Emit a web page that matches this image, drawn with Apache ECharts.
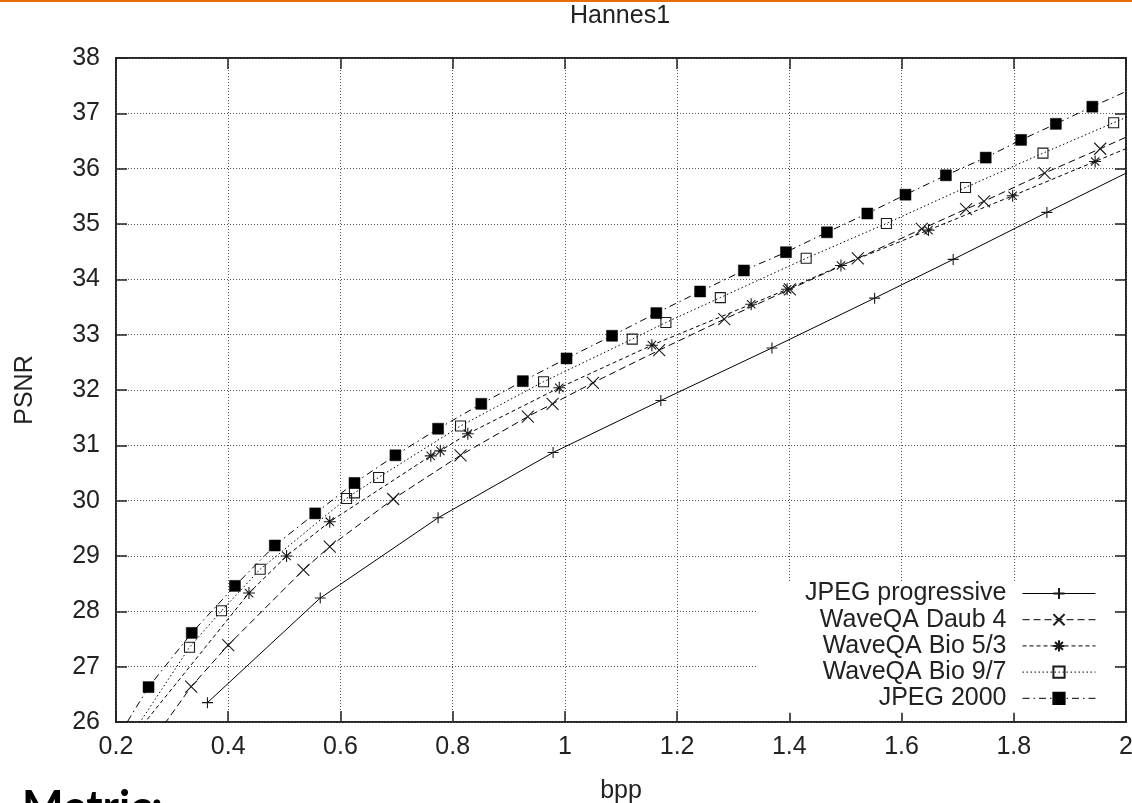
<!DOCTYPE html>
<html>
<head>
<meta charset="utf-8">
<title>Hannes1</title>
<script src="https://cdn.jsdelivr.net/npm/echarts@6/dist/echarts.min.js"></script>
<style>
  html, body { margin: 0; padding: 0; background: #fff; }
  #chart { width: 1132px; height: 803px; }
</style>
</head>
<body>
<div id="chart"></div>
<script>
// Rate–distortion curves for the "Hannes1" image: PSNR (dB) against bit rate (bpp).
const chartTitle = 'Hannes1';
const xName = 'bpp';
const yName = 'PSNR';
const xMin = 0.2, xMax = 2, xStep = 0.2;
const yMin = 26, yMax = 38, yStep = 1;

const seriesNames = ['JPEG progressive', 'WaveQA Daub 4', 'WaveQA Bio 5/3', 'WaveQA Bio 9/7', 'JPEG 2000'];

// [bpp, PSNR] pairs; the first/last pairs of some codecs lie just outside the plotted range
const jpegProgressive = [
  [0.363, 26.35], [0.564, 28.24], [0.774, 29.69], [0.979, 30.87], [1.171, 31.81],
  [1.369, 32.76], [1.552, 33.66], [1.692, 34.36], [1.859, 35.21], [2.05, 36.17]
];
const waveDaub4 = [
  [0.275, 25.80], [0.334, 26.64], [0.400, 27.39], [0.534, 28.75], [0.581, 29.17],
  [0.694, 30.03], [0.814, 30.82], [0.934, 31.52], [0.978, 31.75], [1.050, 32.13],
  [1.168, 32.72], [1.284, 33.28], [1.401, 33.82], [1.522, 34.38], [1.636, 34.91],
  [1.715, 35.27], [1.747, 35.41], [1.855, 35.92], [1.954, 36.36], [2.04, 36.75]
];
const waveBio53 = [
  [0.240, 25.85], [0.437, 28.33], [0.504, 29.00], [0.581, 29.62], [0.761, 30.81],
  [0.778, 30.90], [0.827, 31.21], [0.990, 32.04], [1.155, 32.81], [1.332, 33.55],
  [1.396, 33.82], [1.492, 34.25], [1.648, 34.89], [1.798, 35.51], [1.945, 36.13],
  [2.04, 36.53]
];
const waveBio97 = [
  [0.230, 25.80], [0.331, 27.35], [0.388, 28.01], [0.457, 28.76], [0.611, 30.04],
  [0.625, 30.14], [0.668, 30.42], [0.814, 31.35], [0.962, 32.15], [1.120, 32.92],
  [1.180, 33.22], [1.277, 33.67], [1.430, 34.38], [1.573, 35.01], [1.714, 35.66],
  [1.852, 36.28], [1.978, 36.83], [2.04, 37.10]
];
const jpeg2000 = [
  [0.190, 25.50], [0.258, 26.63], [0.335, 27.61], [0.412, 28.46], [0.483, 29.19],
  [0.555, 29.77], [0.625, 30.32], [0.698, 30.82], [0.774, 31.30], [0.851, 31.75],
  [0.925, 32.16], [1.003, 32.57], [1.084, 32.98], [1.163, 33.39], [1.241, 33.78],
  [1.319, 34.16], [1.394, 34.49], [1.467, 34.85], [1.539, 35.19], [1.607, 35.53],
  [1.679, 35.88], [1.750, 36.20], [1.813, 36.52], [1.875, 36.81], [1.940, 37.12],
  [2.01, 37.44]
];

const INK = '#222';
const FONT = '"Liberation Sans", Arial, Helvetica, sans-serif';

// stroke-only point glyphs
const PLUS = 'path://M5 0L5 10M0 5L10 5';
const CROSS = 'path://M0 0L10 10M10 0L0 10';
const STAR = 'path://M5 0L5 10M0 5L10 5M1.5 1.5L8.5 8.5M8.5 1.5L1.5 8.5';

function curve(name, data, symbol, size, dash, filled) {
  return {
    name: name,
    type: 'line',
    data: data,
    symbol: symbol,
    symbolSize: size,
    showSymbol: true,
    showAllSymbol: true,
    clip: true,
    silent: true,
    lineStyle: { color: '#000', width: 1, type: dash },
    itemStyle: filled
      ? { color: '#000', borderColor: '#000', borderWidth: 0.5 }
      : { color: 'transparent', borderColor: '#1a1a1a', borderWidth: 1.1 },
    emphasis: { disabled: true }
  };
}

const chart = echarts.init(document.getElementById('chart'), null, { renderer: 'canvas' });

const tickStyle = { show: true, inside: true, length: 11, lineStyle: { color: INK, width: 1.5 } };

chart.setOption({
  animation: false,
  backgroundColor: '#fff',
  title: {
    text: chartTitle,
    left: 620,
    top: 4,
    padding: 0,
    textAlign: 'center',
    textStyle: { fontFamily: FONT, fontSize: 25, fontWeight: 'normal', color: INK }
  },
  grid: {
    left: 116, right: 6, top: 58, bottom: 81,
    outerBoundsMode: 'none',
    containLabel: false,
    show: true, borderColor: '#262626', borderWidth: 2, backgroundColor: 'transparent'
  },
  legend: {
    data: seriesNames,
    orient: 'vertical',
    align: 'right',
    right: 19,
    top: 581,
    padding: [0, 17, 2, 48],
    itemGap: 1.2,
    itemWidth: 73,
    itemHeight: 14,
    backgroundColor: '#fff',
    selectedMode: false,
    lineStyle: { width: 1 },
    textStyle: { fontFamily: FONT, fontSize: 25, color: INK, padding: [0, 11, 0, 0] }
  },
  xAxis: [
    {
      type: 'value', position: 'bottom',
      min: xMin, max: xMax, interval: xStep,
      name: xName, nameLocation: 'middle', nameGap: 57,
      nameTextStyle: { fontFamily: FONT, fontSize: 25, color: INK },
      axisLine: { show: false },
      axisTick: tickStyle,
      axisLabel: { fontFamily: FONT, fontSize: 25, color: INK, margin: 13, showMaxLabel: true, showMinLabel: true },
      splitLine: { show: true, lineStyle: { color: '#555', width: 1, type: [1, 2] } }
    },
    {
      type: 'value', position: 'top',
      min: xMin, max: xMax, interval: xStep,
      axisLine: { show: false }, axisTick: tickStyle,
      axisLabel: { show: false }, splitLine: { show: false }
    }
  ],
  yAxis: [
    {
      type: 'value', position: 'left',
      min: yMin, max: yMax, interval: yStep,
      name: yName, nameLocation: 'middle', nameGap: 78, nameRotate: 90,
      nameTextStyle: { fontFamily: FONT, fontSize: 25, color: INK },
      axisLine: { show: false },
      axisTick: tickStyle,
      axisLabel: { fontFamily: FONT, fontSize: 25, color: INK, margin: 16 },
      splitLine: { show: true, lineStyle: { color: '#555', width: 1, type: [1, 2] } }
    },
    {
      type: 'value', position: 'right',
      min: yMin, max: yMax, interval: yStep,
      axisLine: { show: false }, axisTick: tickStyle,
      axisLabel: { show: false }, splitLine: { show: false }
    }
  ],
  series: [
    curve(seriesNames[0], jpegProgressive, PLUS, 11, 'solid', false),
    curve(seriesNames[1], waveDaub4, CROSS, 12, [7, 4], false),
    curve(seriesNames[2], waveBio53, STAR, 12, [4, 3], false),
    curve(seriesNames[3], waveBio97, 'rect', 10, [1.5, 2.5], false),
    curve(seriesNames[4], jpeg2000, 'rect', 11, [7, 4, 1.5, 4], true)
  ],
  graphic: [
    { type: 'rect', left: 0, top: 0, z: 100,
      shape: { width: 1132, height: 2 }, style: { fill: '#E46C0A' } },
    { type: 'text', x: 22, y: 808, z: 100,
      style: { text: 'Metric:', fontFamily: 'Lato, "Open Sans", sans-serif', fontWeight: 'bold',
               fontSize: 44, fill: '#000', verticalAlign: 'middle', align: 'left' } }
  ]
});
</script>
</body>
</html>
